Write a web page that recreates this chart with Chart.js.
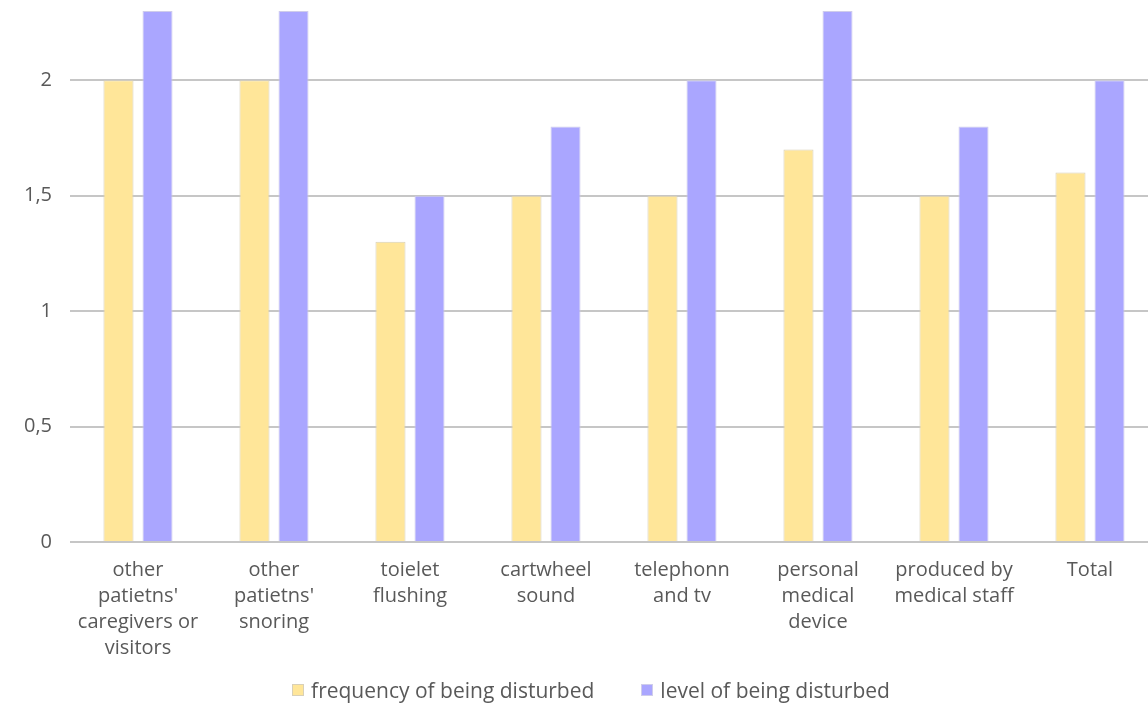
<!DOCTYPE html>
<html>
<head>
<meta charset="utf-8">
<script src="https://cdn.jsdelivr.net/npm/chart.js@4/dist/chart.umd.min.js"></script>
<style>
  html, body { margin: 0; padding: 0; background: #fff; overflow: hidden; }
  #wrap { position: absolute; left: 0; top: 0; width: 1190px; height: 706px; }
  #legend {
    position: absolute; left: 0; top: 678px; width: 1182px;
    display: flex; justify-content: center; gap: 47px;
    font: 21px/24px 'Open Sans', 'DejaVu Sans', sans-serif; color: #595959;
  }
  #legend .item { display: flex; align-items: center; white-space: nowrap; }
  #legend .box { width: 12px; height: 12px; margin-right: 7px; box-sizing: border-box; border: 1px solid; }
</style>
</head>
<body>
<div id="wrap"><canvas id="noiseChart"></canvas></div>
<div id="legend"></div>
<script>
// noise sources, one label array per category (lines of the wrapped label)
const categories = [
  ['other', "patietns'", 'caregivers or', 'visitors'],
  ['other', "patietns'", 'snoring'],
  ['toielet', 'flushing'],
  ['cartwheel', 'sound'],
  ['telephonn', 'and tv'],
  ['personal', 'medical', 'device'],
  ['produced by', 'medical staff'],
  ['Total']
];
const frequencyValues = [2.0, 2.0, 1.3, 1.5, 1.5, 1.7, 1.5, 1.6];
const levelValues = [2.3, 2.3, 1.5, 1.8, 2.0, 2.3, 1.8, 2.0];
const yTicks = [0, 0.5, 1, 1.5, 2];

const textColor = '#595959';
const fontFamily = "'Open Sans', 'DejaVu Sans', sans-serif";

const ctx = document.getElementById('noiseChart').getContext('2d');
const chart = new Chart(ctx, {
  type: 'bar',
  data: {
    labels: categories,
    datasets: [
      {
        label: 'frequency of being disturbed',
        data: frequencyValues,
        backgroundColor: '#FFE699',
        borderColor: '#D8D0B8',
        borderWidth: 1,
        categoryPercentage: 0.574,
        barPercentage: 0.77
      },
      {
        label: 'level of being disturbed',
        data: levelValues,
        backgroundColor: '#AAA6FF',
        borderColor: '#CFCDEA',
        borderWidth: 1,
        categoryPercentage: 0.574,
        barPercentage: 0.77
      }
    ]
  },
  options: {
    responsive: true,
    maintainAspectRatio: false,
    animation: false,
    layout: {
      padding: { top: 11, right: 32, bottom: 34, left: 0 }
    },
    plugins: {
      // legend is built as html below the canvas
      legend: { display: false },
      tooltip: { enabled: false }
    },
    scales: {
      x: {
        grid: { display: false },
        border: { display: false },
        afterFit: (scale) => { scale.height = 130; },
        ticks: {
          autoSkip: false,
          maxRotation: 0,
          padding: 7,
          color: textColor,
          font: { family: fontFamily, size: 20, lineHeight: 1.3 }
        }
      },
      y: {
        min: 0,
        max: 2.3,
        afterFit: (scale) => {
          scale.width = 70;
          scale.paddingTop = 0;
          scale.paddingBottom = 0;
        },
        afterBuildTicks: (scale) => {
          scale.ticks = yTicks.map(v => ({ value: v }));
        },
        grid: { color: '#C6C6C6', lineWidth: 2, drawTicks: false },
        border: { display: false },
        ticks: {
          padding: 18,
          color: textColor,
          font: { family: fontFamily, size: 20 },
          callback: (v) => String(v).replace('.', ',')
        }
      }
    }
  }
});

const legendEl = document.getElementById('legend');
chart.data.datasets.forEach(ds => {
  const item = document.createElement('div');
  item.className = 'item';
  const box = document.createElement('span');
  box.className = 'box';
  box.style.background = ds.backgroundColor;
  box.style.borderColor = ds.borderColor;
  const text = document.createElement('span');
  text.textContent = ds.label;
  item.appendChild(box);
  item.appendChild(text);
  legendEl.appendChild(item);
});
</script>
</body>
</html>
